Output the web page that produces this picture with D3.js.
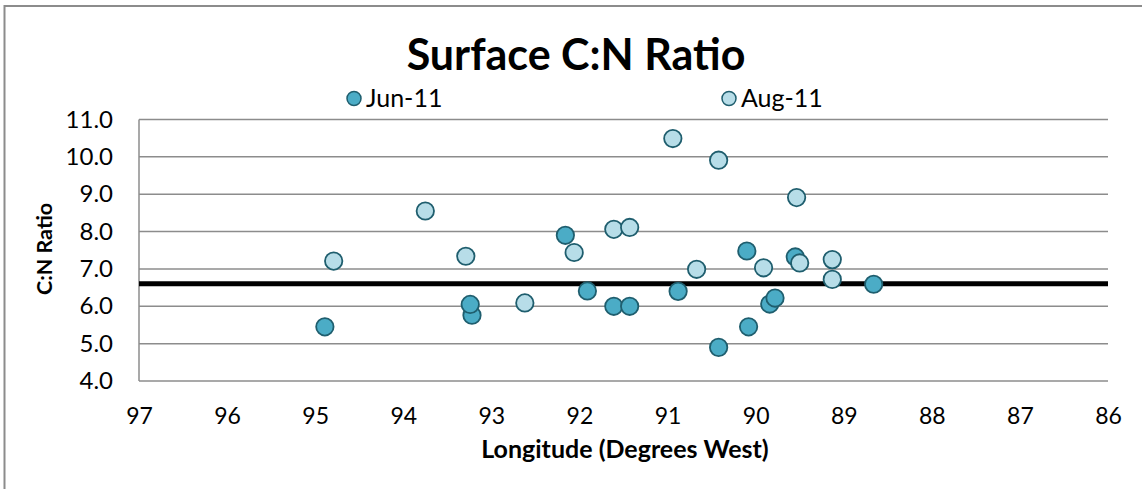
<!DOCTYPE html>
<html><head><meta charset="utf-8">
<script src="https://cdn.jsdelivr.net/npm/d3@7"></script>
<style>body{margin:0;background:#fff}svg{display:block}text{font-family:Lato,"Open Sans",sans-serif}</style>
</head><body>
<script>
const title = "Surface C:N Ratio";
const seriesNames = ["Jun-11", "Aug-11"];
const junLon = [94.89, 93.22, 93.24, 92.16, 91.91, 91.61, 91.43, 90.88, 90.42, 90.10, 90.08, 89.84, 89.78, 89.55, 88.66];
const junCN  = [5.45, 5.76, 6.05, 7.90, 6.41, 6.00, 6.00, 6.40, 4.90, 7.48, 5.45, 6.06, 6.22, 7.32, 6.59];
const augLon = [94.79, 93.75, 93.29, 92.62, 92.06, 91.61, 91.43, 90.94, 90.42, 90.67, 89.91, 89.535, 89.50, 89.13, 89.13];
const augCN  = [7.21, 8.55, 7.34, 6.09, 7.44, 8.06, 8.11, 10.49, 9.91, 6.99, 7.03, 8.91, 7.16, 7.25, 6.72];
const meanCN = 6.6;
const xTicks = [97, 96, 95, 94, 93, 92, 91, 90, 89, 88, 87, 86];
const yTicks = [4, 5, 6, 7, 8, 9, 10, 11];
const xTitle = "Longitude (Degrees West)";
const yTitle = "C:N Ratio";

const W = 1142, H = 489;
const svg = d3.select("body").append("svg").attr("width", W).attr("height", H);
const x = d3.scaleLinear().domain([97, 86]).range([139, 1108]);
const y = d3.scaleLinear().domain([4, 11]).range([381, 119.5]);
const junFill = "#4bacc6", augFill = "#b7dde8", stroke = "#1f5e6e";

// outer border
svg.append("rect").attr("x", 4.5).attr("y", 6).attr("width", W + 10).attr("height", H + 10)
  .attr("fill", "none").attr("stroke", "#8c8c8c").attr("stroke-width", 2);

// title
svg.append("text").attr("x", 576).attr("y", 70).attr("text-anchor", "middle")
  .attr("font-size", 43).attr("font-weight", "bold").attr("fill", "#000").text(title);

// gridlines
svg.append("g").selectAll("line").data(yTicks).join("line")
  .attr("x1", x(97)).attr("x2", x(86)).attr("y1", d => y(d)).attr("y2", d => y(d))
  .attr("stroke", "#8c8c8c").attr("stroke-width", 1.5);
svg.append("line").attr("x1", x(97)).attr("x2", x(97)).attr("y1", y(11)).attr("y2", y(4))
  .attr("stroke", "#8c8c8c").attr("stroke-width", 1.5);

// axes
const yAxis = d3.axisLeft(y).tickValues(yTicks).tickFormat(d3.format(".1f")).tickSize(0).tickPadding(26);
const gy = svg.append("g").attr("transform", `translate(${x(97)},0)`).call(yAxis);
gy.select(".domain").remove();
gy.selectAll("text").attr("font-size", 24).attr("fill", "#000").style("font-family", "Lato, sans-serif");

const xAxis = d3.axisBottom(x).tickValues(xTicks).tickFormat(d3.format("d")).tickSize(0).tickPadding(0);
const gx = svg.append("g").attr("transform", `translate(0,${y(4)})`).call(xAxis);
gx.select(".domain").remove();
gx.selectAll("text").attr("font-size", 23).attr("fill", "#000").attr("dy", null).attr("y", 43)
  .style("font-family", "Lato, sans-serif");

// axis titles
svg.append("text").attr("x", 625).attr("y", 458).attr("text-anchor", "middle")
  .attr("font-size", 25).attr("font-weight", "bold").text(xTitle);
svg.append("text").attr("transform", "translate(52,249) rotate(-90)").attr("text-anchor", "middle")
  .attr("font-size", 21.5).attr("font-weight", "bold").text(yTitle);

// mean line
svg.append("line").attr("x1", x(97)).attr("x2", x(86)).attr("y1", y(meanCN)).attr("y2", y(meanCN))
  .attr("stroke", "#000").attr("stroke-width", 5);

// points
const jun = junLon.map((v, i) => ({lon: v, cn: junCN[i]}));
const aug = augLon.map((v, i) => ({lon: v, cn: augCN[i]}));
svg.append("g").selectAll("circle").data(jun).join("circle")
  .attr("cx", d => x(d.lon)).attr("cy", d => y(d.cn)).attr("r", 8.7)
  .attr("fill", junFill).attr("stroke", stroke).attr("stroke-width", 1.8);
svg.append("g").selectAll("circle").data(aug).join("circle")
  .attr("cx", d => x(d.lon)).attr("cy", d => y(d.cn)).attr("r", 8.7)
  .attr("fill", augFill).attr("stroke", stroke).attr("stroke-width", 1.8);

// legend
const leg = [{name: seriesNames[0], fill: junFill, cx: 354}, {name: seriesNames[1], fill: augFill, cx: 729}];
const lg = svg.append("g").selectAll("g").data(leg).join("g");
lg.append("circle").attr("cx", d => d.cx).attr("cy", 98.5).attr("r", 7)
  .attr("fill", d => d.fill).attr("stroke", stroke).attr("stroke-width", 1.5);
lg.append("text").attr("x", d => d.cx + 12).attr("y", 106.5).attr("font-size", 25).text(d => d.name);
</script>
</body></html>
